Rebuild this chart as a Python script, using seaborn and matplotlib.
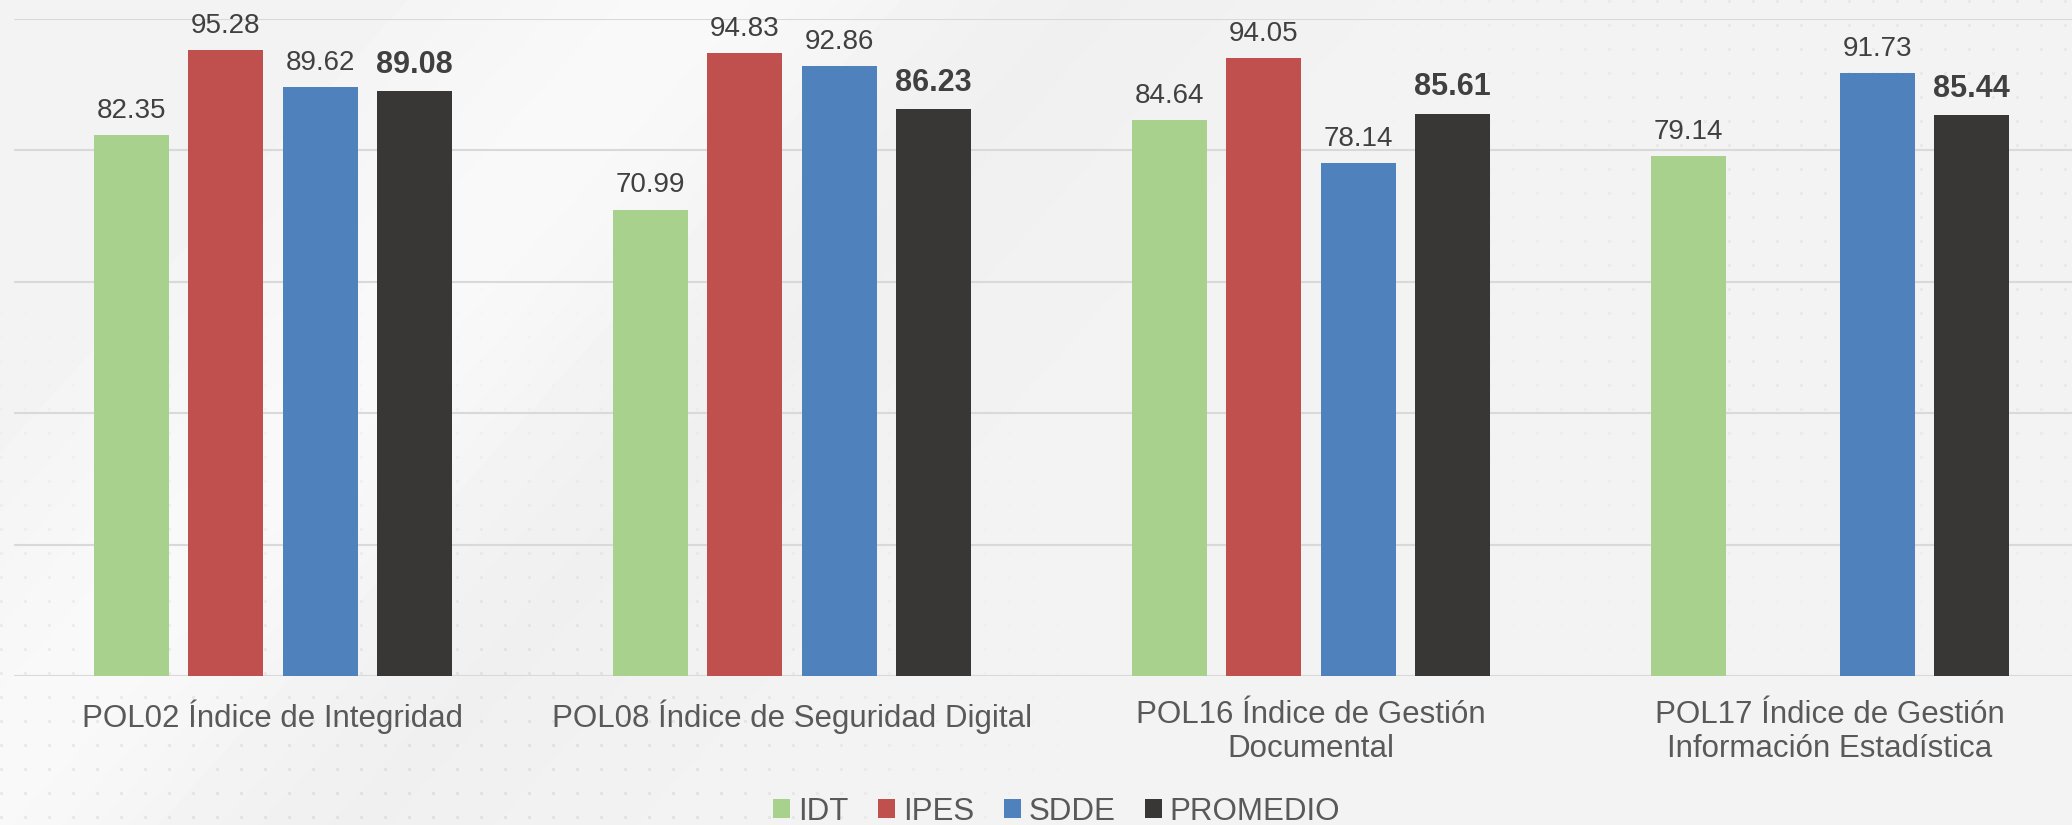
import numpy as np
import pandas as pd
import matplotlib
matplotlib.use("Agg")
import matplotlib.pyplot as plt
from matplotlib.patches import Patch
import seaborn as sns

# === DATA ===
indicadores = [
    "POL02 Índice de Integridad",
    "POL08 Índice de Seguridad Digital",
    "POL16 Índice de Gestión\nDocumental",
    "POL17 Índice de Gestión\nInformación Estadística",
]
entidades = ["IDT", "IPES", "SDDE", "PROMEDIO"]
idt = [82.35, 70.99, 84.64, 79.14]
ipes = [95.28, 94.83, 94.05, np.nan]
sdde = [89.62, 92.86, 78.14, 91.73]
promedio = [89.08, 86.23, 85.61, 85.44]

colores = {"IDT": "#A9D18E", "IPES": "#C0504D", "SDDE": "#4F81BD", "PROMEDIO": "#383735"}

df = pd.DataFrame({
    "indicador": indicadores * 4,
    "entidad": np.repeat(entidades, len(indicadores)),
    "valor": idt + ipes + sdde + promedio,
}).dropna()

# === STYLE ===
sns.set_style("white")
plt.rcParams["font.family"] = ["Liberation Sans", "DejaVu Sans"]

W, H = 2072, 825
fig = plt.figure(figsize=(W / 100, H / 100), dpi=100)

# background: soft grey with a light diagonal band and dot texture
yy, xx = np.mgrid[0:H, 0:W]
bg = np.full((H, W), 0.95)
bg += 0.025 * np.exp(-((xx + 0.9 * yy - 700) / 260.0) ** 2)
bg -= 0.012 * np.exp(-((xx + 0.9 * yy - 1050) / 200.0) ** 2)
dots = ((xx % 24) < 3) & ((yy % 24) < 3)
dot_w = np.clip((yy - 250) / 500.0, 0, 1) * np.clip((1100 - xx) / 400.0, 0, 1)
dot_w += np.clip((xx - 1350) / 300.0, 0, 1) * np.clip((700 - yy) / 300.0, 0, 1) * 0.6
bg -= dots * 0.06 * np.clip(dot_w, 0, 1)
ax_bg = fig.add_axes([0, 0, 1, 1], zorder=-1)
ax_bg.imshow(bg, cmap="gray", vmin=0, vmax=1, aspect="auto", interpolation="bilinear")
ax_bg.axis("off")

ax = fig.add_axes([13.5 / W, 1 - 676 / H, 2076 / W, 657 / H])
ax.patch.set_alpha(0)

sns.barplot(data=df, x="indicador", y="valor", hue="entidad", order=indicadores,
            hue_order=entidades, palette=colores, width=0.728, gap=0.21,
            saturation=1, errorbar=None, legend=False, ax=ax, zorder=3,
            linewidth=0, edgecolor="none")

ax.set_ylim(0, 100)
ax.set_xlim(-0.5, 3.5)
ax.set_yticks(np.arange(0, 101, 20))
ax.set_yticklabels([])
ax.tick_params(axis="y", length=0)
ax.grid(axis="y", color="#d9d9d9", linewidth=1.5, zorder=0)
ax.set_axisbelow(True)
sns.despine(ax=ax, left=True, bottom=True)
ax.set_xlabel("")
ax.set_ylabel("")
ax.tick_params(axis="x", length=0, pad=17, labelsize=22.5, labelcolor="#595959")

for cont, ent in zip(ax.containers, entidades):
    if ent == "PROMEDIO":
        ax.bar_label(cont, fmt="%.2f", padding=8, fontsize=22, fontweight="bold",
                     color="#404040", clip_on=False)
    else:
        ax.bar_label(cont, fmt="%.2f", padding=8, fontsize=20, color="#404040",
                     clip_on=False)

handles = [Patch(facecolor=colores[e], edgecolor="none") for e in entidades]
fig.legend(handles, entidades, loc="center", bbox_to_anchor=(0.51, 0.016), ncol=4,
           frameon=False, fontsize=22.5, handlelength=0.54, handleheight=0.54,
           handletextpad=0.25, columnspacing=0.95, labelcolor="#595959",
           borderpad=0, borderaxespad=0)

fig.savefig("out.png", dpi=100)
